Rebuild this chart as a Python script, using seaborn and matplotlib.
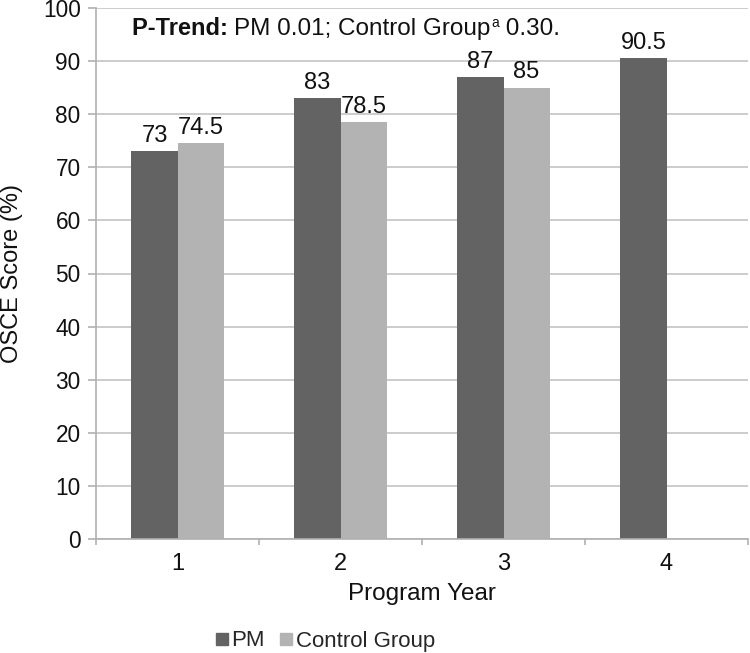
import matplotlib
matplotlib.use("Agg")
import matplotlib.pyplot as plt
import seaborn as sns
import pandas as pd
import numpy as np
from matplotlib.lines import Line2D

years = ["1", "2", "3", "4"]
pm_scores = [73, 83, 87, 90.5]
control_scores = [74.5, 78.5, 85, np.nan]
groups = ["PM", "Control Group"]
colors = ["#636363", "#b3b3b3"]

df = pd.DataFrame({
    "Program Year": years * 2,
    "Score": pm_scores + control_scores,
    "Group": [groups[0]] * 4 + [groups[1]] * 4,
})

sns.set_theme(style="white")
plt.rcParams['font.family'] = ['Liberation Sans', 'DejaVu Sans']

W, H = 750, 653
fig = plt.figure(figsize=(7.5, 6.53), dpi=100)
ax = fig.add_axes([96 / W, 1 - 539 / H, (748 - 96) / W, (539 - 8) / H])

sns.barplot(data=df, x="Program Year", y="Score", hue="Group", order=years,
            hue_order=groups, palette=colors, width=0.565, saturation=1,
            ax=ax, legend=False, edgecolor="none", linewidth=0)

for cont in ax.containers:
    ax.bar_label(cont, fmt="%g", fontsize=17, padding=3, color="#111111")

ax.set_ylim(0, 100)
ax.set_xlim(-0.5, 3.5)
ax.set_yticks(range(0, 101, 10))
ax.yaxis.grid(True, color="#c4c4c4", linewidth=1.2)
ax.set_axisbelow(True)
for s in ["top", "right"]:
    ax.spines[s].set_visible(False)
for s in ["left", "bottom"]:
    ax.spines[s].set_color("#b0b0b0")
    ax.spines[s].set_linewidth(1.2)

ax.tick_params(axis="y", labelsize=16.3, length=6, width=1.2, color="#b0b0b0",
               left=True, pad=5, labelcolor="#111111")
ax.tick_params(axis="x", which="major", labelsize=17, length=0, pad=10, labelcolor="#111111")
ax.set_xticks(np.arange(-0.5, 4, 1), minor=True)
ax.tick_params(axis="x", which="minor", length=4, color="#b0b0b0", width=1.2, bottom=True)

ax.set_xlabel("Program Year", fontsize=17.5, labelpad=6, color="#111111")
ax.set_ylabel("OSCE Score (%)", fontsize=17, color="#111111")
ax.yaxis.set_label_coords(-(96 - 23) / (748 - 96), 0.5)

# Legend
handles = [Line2D([], [], marker="s", linestyle="none", markersize=8,
                  markerfacecolor=c, markeredgecolor=c) for c in colors]
fig.legend(handles, groups, loc="center left", bbox_to_anchor=(216 / W, 1 - 641 / H),
           ncol=2, frameon=False, fontsize=16, handlelength=0.5, handletextpad=0.2,
           columnspacing=0.7, borderpad=0, borderaxespad=0)

# P-Trend annotation, pieces placed left to right
fig.canvas.draw()
renderer = fig.canvas.get_renderer()
base_y = 1 - 35 / H
parts = [("P-Trend: ", "bold", 17, 0), ("PM 0.01; Control Group", "normal", 17.5, 0),
         ("a", "normal", 10, 8 / H), (" 0.30.", "normal", 17.5, 0)]
x = 132 / W
for txt, w, fs, dy in parts:
    t = fig.text(x, base_y + dy, txt, fontsize=fs, fontweight=w,
                 va="baseline", ha="left", color="#111111")
    bb = t.get_window_extent(renderer=renderer)
    x += bb.width / fig.bbox.width

fig.savefig("out.png", dpi=100)
